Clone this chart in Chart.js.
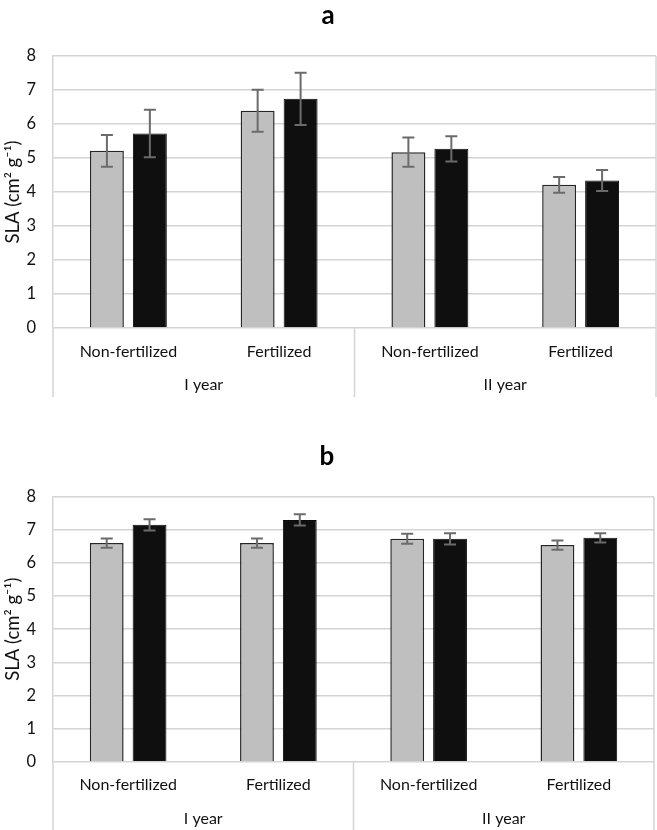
<!DOCTYPE html>
<html><head><meta charset="utf-8">
<script src="https://cdn.jsdelivr.net/npm/chart.js@4.4.1/dist/chart.umd.min.js"></script>
<style>
html,body{margin:0;padding:0;background:#fff;}
.wrap{position:absolute;left:0;width:657px;height:415px;}
#wrapA{top:0;}
#wrapB{top:415px;}
</style></head><body>
<div class="wrap" id="wrapA"><canvas id="chartA"></canvas></div>
<div class="wrap" id="wrapB"><canvas id="chartB"></canvas></div>
<script>
// ---- data ----
const categories = ['Non-fertilized', 'Fertilized', 'Non-fertilized', 'Fertilized'];
const groups = ['I year', 'II year'];
const yTicks = [0, 1, 2, 3, 4, 5, 6, 7, 8];

const aGray = [5.21, 6.39, 5.17, 4.21];
const aGrayErr = [0.47, 0.62, 0.43, 0.23];
const aBlack = [5.72, 6.74, 5.27, 4.34];
const aBlackErr = [0.70, 0.77, 0.37, 0.31];

const bGray = [6.60, 6.60, 6.73, 6.54];
const bGrayErr = [0.14, 0.14, 0.15, 0.14];
const bBlack = [7.15, 7.30, 6.73, 6.76];
const bBlackErr = [0.17, 0.17, 0.17, 0.14];

const FONT = 'Lato, "Open Sans", sans-serif';
const TEXT = '#111111';
const GRID = '#d4d4d4';

const extras = {
  id: 'extras',
  afterDatasetsDraw(chart, args, opts) {
    const ctx = chart.ctx, y = chart.scales.y;
    ctx.save();
    ctx.strokeStyle = '#6b6b6b';
    ctx.lineWidth = 2;
    chart.data.datasets.forEach((ds, i) => {
      const meta = chart.getDatasetMeta(i);
      meta.data.forEach((el, j) => {
        const v = ds.data[j], e = opts.errors[i][j];
        const yt = y.getPixelForValue(v + e), yb = y.getPixelForValue(v - e);
        ctx.beginPath();
        ctx.moveTo(el.x, yt); ctx.lineTo(el.x, yb);
        ctx.moveTo(el.x - 6, yt); ctx.lineTo(el.x + 6, yt);
        ctx.moveTo(el.x - 6, yb); ctx.lineTo(el.x + 6, yb);
        ctx.stroke();
      });
    });
    ctx.restore();
  },
  afterDraw(chart, args, opts) {
    const ctx = chart.ctx, x = chart.scales.x, a = chart.chartArea;
    const sep = (x.getPixelForValue(1) + x.getPixelForValue(2)) / 2;
    ctx.save();
    ctx.strokeStyle = GRID;
    ctx.lineWidth = 1.5;
    ctx.beginPath();
    ctx.moveTo(a.left, a.bottom); ctx.lineTo(a.left, opts.lineBottom);
    ctx.moveTo(sep, a.bottom); ctx.lineTo(sep, opts.lineBottom);
    ctx.moveTo(a.right, a.top); ctx.lineTo(a.right, opts.lineBottom);
    ctx.stroke();
    ctx.fillStyle = TEXT;
    ctx.font = '16px ' + FONT;
    ctx.textAlign = 'center';
    ctx.textBaseline = 'middle';
    ctx.fillText(opts.groups[0], (a.left + sep) / 2, a.bottom + opts.groupOffset);
    ctx.fillText(opts.groups[1], (sep + a.right) / 2, a.bottom + opts.groupOffset);
    ctx.restore();
  }
};

function makeChart(id, title, gray, black, grayErr, blackErr, geo) {
  return new Chart(document.getElementById(id), {
    type: 'bar',
    data: {
      labels: categories,
      datasets: [
        { label: 'Series 1', data: gray, backgroundColor: '#bfbfbf', borderColor: '#262626', borderWidth: 1.5,
          categoryPercentage: 0.57, barPercentage: 0.79 },
        { label: 'Series 2', data: black, backgroundColor: '#0f0f0f', borderColor: '#0a0a0a', borderWidth: 1,
          categoryPercentage: 0.57, barPercentage: 0.79 }
      ]
    },
    options: {
      responsive: true,
      maintainAspectRatio: false,
      animation: false,
      layout: { padding: { left: 0, right: geo.padRight, top: 0, bottom: 0 } },
      plugins: {
        legend: { display: false },
        tooltip: { enabled: false },
        title: { display: true, text: title, color: '#000',
          font: { family: FONT, size: 26, weight: 'bold', lineHeight: 1.2 },
          padding: { top: geo.titleTop, bottom: geo.titleBottom } },
        extras: { errors: [grayErr, blackErr], groups: groups, lineBottom: geo.lineBottom, groupOffset: 57 }
      },
      scales: {
        x: {
          grid: { display: false },
          border: { display: false },
          ticks: { color: TEXT, font: { family: FONT, size: 16 }, padding: 6, maxRotation: 0, autoSkip: false },
          afterFit(s) { s.height = geo.xHeight; }
        },
        y: {
          min: 0, max: 8,
          afterBuildTicks(s) { s.ticks = yTicks.map(v => ({ value: v })); },
          grid: { color: GRID, lineWidth: 1.5, drawTicks: false },
          border: { display: true, color: GRID, width: 1.5 },
          ticks: { color: TEXT, font: { family: FONT, size: 16.5 }, padding: 17 },
          title: { display: true, text: 'SLA (cm\u00B2 g\u207B\u00B9)', color: TEXT,
            font: { family: FONT, size: 18.5 }, padding: { top: 2, bottom: 0 } },
          afterFit(s) { s.width = 53; }
        }
      }
    },
    plugins: [extras]
  });
}

makeChart('chartA', 'a', aGray, aBlack, aGrayErr, aBlackErr,
  { padRight: 1, titleTop: 0, titleBottom: 24.8, xHeight: 87, lineBottom: 397 });
makeChart('chartB', 'b', bGray, bBlack, bGrayErr, bBlackErr,
  { padRight: 3, titleTop: 26.4, titleBottom: 24.1, xHeight: 68.3, lineBottom: 415 });
</script>
</body></html>
